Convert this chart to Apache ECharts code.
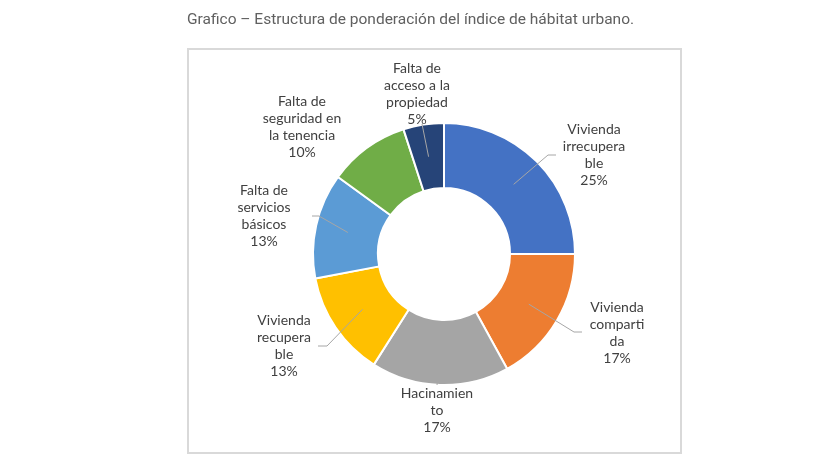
<!DOCTYPE html>
<html>
<head>
<meta charset="utf-8">
<script src="https://cdn.jsdelivr.net/npm/echarts@6/dist/echarts.min.js"></script>
<style>
  html, body { margin: 0; padding: 0; background: #ffffff; }
  #chart { width: 819px; height: 460px; }
</style>
</head>
<body>
<div id="chart"></div>
<script>
// datos del grafico (etiquetas cortadas como en el original)
const categories = [
  "Vivienda\nirrecupera\nble",
  "Vivienda\ncomparti\nda",
  "Hacinamien\nto",
  "Vivienda\nrecupera\nble",
  "Falta de\nservicios\nbásicos",
  "Falta de\nseguridad en\nla tenencia",
  "Falta de\nacceso a la\npropiedad"
];
const values = [25, 17, 17, 13, 13, 10, 5];
const colors = ["#4472C4", "#ED7D31", "#A5A5A5", "#FFC000", "#5B9BD5", "#70AD47", "#264478"];

// posicion de cada etiqueta (centro del bloque de texto)
const labelPos = [[594, 155], [617, 333], [437, 410], [284, 346], [264, 216], [302, 127], [417, 94]];
// fin de la linea guia respecto al centro de la etiqueta, y tramo horizontal
const lineEnd = [[-38, 0], [-35, -1], [0, -25], [34, 0], [48, 0], null, [5, 30]];
const elbow = [-8, -8, 0, 9, 7, 0, 0];

const CX = 444, CY = 254, R_IN = 66, R_OUT = 131;
const total = values.reduce((a, b) => a + b, 0);

// punto de inicio de la linea: mitad del anillo, angulo medio del sector
function anchorOf(i) {
  let acc = 0;
  for (let k = 0; k < i; k++) acc += values[k];
  const ang = ((acc + values[i] / 2) / total) * 2 * Math.PI;
  const rm = (R_IN + R_OUT) / 2;
  return [CX + rm * Math.sin(ang), CY - rm * Math.cos(ang)];
}

const chart = echarts.init(document.getElementById("chart"));

const option = {
  animation: false,
  title: {
    text: "Grafico – Estructura de ponderación del índice de hábitat urbano.",
    left: 187,
    top: 12,
    padding: 0,
    textStyle: {
      fontFamily: "Roboto",
      fontSize: 15.5,
      fontWeight: "normal",
      color: "#606060"
    }
  },
  graphic: [
    {
      type: "rect",
      shape: { x: 188, y: 49, width: 493, height: 404 },
      style: { fill: "none", stroke: "#d9d9d9", lineWidth: 2 },
      z: -1
    }
  ],
  series: [
    {
      // anillo
      type: "pie",
      z: 2,
      center: [CX, CY],
      radius: [R_IN, R_OUT],
      startAngle: 90,
      clockwise: true,
      itemStyle: { borderColor: "#ffffff", borderWidth: 2 },
      label: { show: false },
      labelLine: { show: false },
      emphasis: { disabled: true },
      data: categories.map((name, i) => ({
        name: name,
        value: values[i],
        itemStyle: { color: colors[i] }
      }))
    },
    {
      // capa transparente encima solo para etiquetas y lineas guia
      type: "pie",
      z: 5,
      silent: true,
      center: [CX, CY],
      radius: [R_IN, R_OUT],
      startAngle: 90,
      clockwise: true,
      avoidLabelOverlap: false,
      itemStyle: { color: "rgba(0,0,0,0)", borderWidth: 0 },
      label: {
        show: true,
        position: "outside",
        formatter: "{b}\n{c}%",
        fontFamily: "Lato",
        fontSize: 14,
        lineHeight: 17,
        color: "#404040",
        align: "center"
      },
      labelLine: {
        show: true,
        lineStyle: { color: "#a6a6a6", width: 1, opacity: 1 }
      },
      emphasis: { disabled: true },
      labelLayout: function (params) {
        const i = params.dataIndex;
        const [x, y] = labelPos[i];
        const out = { x: x, y: y, align: "center", verticalAlign: "middle" };
        const a = anchorOf(i);
        if (lineEnd[i]) {
          const end = [x + lineEnd[i][0], y + lineEnd[i][1]];
          const mid = [end[0] + elbow[i], end[1]];
          out.labelLinePoints = [a, mid, end];
        } else {
          out.labelLinePoints = [a, a, a];
        }
        return out;
      },
      data: categories.map((name, i) => ({
        name: name,
        value: values[i],
        labelLine: { show: lineEnd[i] !== null }
      }))
    }
  ]
};

chart.setOption(option);
</script>
</body>
</html>
